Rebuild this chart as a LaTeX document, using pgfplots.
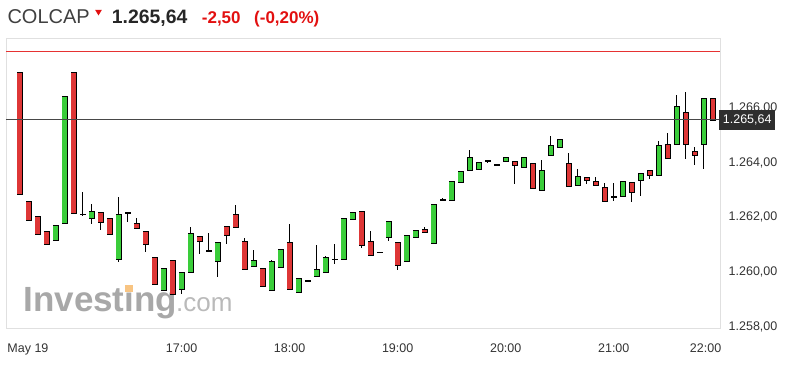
\documentclass[border=0pt]{standalone}
\usepackage{pgfplots}
\pgfplotsset{compat=1.18}
\usepackage{pgfplotstable}
\usepackage{fontspec}
\setmainfont{Liberation Sans}
\definecolor{cgreen}{RGB}{58,205,58}
\definecolor{cred}{RGB}{222,54,54}
\definecolor{txtred}{RGB}{226,16,16}
\definecolor{prevred}{RGB}{230,50,50}
\definecolor{wmorange}{RGB}{248,196,130}

% bullish candles: index, open, high, low, close
\pgfplotstableread{
i o h l c
4 1261.23 1261.79 1261.23 1261.79
5 1261.87 1266.51 1261.87 1266.51
8 1262.01 1262.55 1261.85 1262.29
11 1260.52 1262.83 1260.44 1262.16
16 1259.41 1260.19 1259.41 1260.19
18 1259.41 1260.06 1259.27 1260.06
19 1260.06 1261.71 1260.06 1261.47
22 1260.45 1261.16 1259.90 1261.16
26 1260.27 1260.88 1260.27 1260.51
28 1259.41 1260.54 1259.41 1260.47
29 1260.23 1260.91 1260.23 1260.91
31 1259.32 1259.86 1259.32 1259.86
33 1259.90 1261.06 1259.90 1260.15
34 1260.06 1260.67 1260.06 1260.60
36 1260.55 1262.06 1260.55 1262.06
37 1262.00 1262.26 1262.00 1262.26
41 1261.33 1261.93 1261.22 1261.93
43 1260.45 1261.43 1260.45 1261.43
44 1261.33 1261.61 1261.33 1261.61
46 1261.14 1262.56 1261.14 1262.56
48 1262.70 1263.39 1262.70 1263.39
49 1263.34 1263.76 1263.34 1263.76
50 1263.79 1264.56 1263.79 1264.27
51 1263.84 1264.09 1263.84 1264.09
54 1264.11 1264.25 1264.11 1264.25
56 1263.89 1264.27 1263.89 1264.27
58 1263.06 1264.17 1263.06 1263.79
59 1264.32 1265.05 1264.32 1264.68
60 1264.62 1264.90 1264.62 1264.90
62 1263.24 1263.85 1263.24 1263.57
67 1262.84 1263.39 1262.84 1263.39
69 1263.41 1263.67 1262.86 1263.67
71 1263.62 1264.86 1263.62 1264.72
73 1264.74 1266.55 1264.74 1266.12
76 1264.74 1266.43 1263.83 1266.43
}\candUp

% bearish candles
\pgfplotstableread{
i o h l c
0 1267.38 1267.38 1262.92 1262.92
1 1262.66 1262.66 1261.97 1261.97
2 1262.11 1262.11 1261.46 1261.46
3 1261.57 1261.57 1261.10 1261.10
6 1267.38 1267.38 1262.23 1262.23
9 1262.26 1262.26 1261.63 1261.88
10 1262.02 1262.02 1261.46 1261.46
13 1261.85 1262.04 1261.65 1261.65
14 1261.57 1261.57 1260.82 1261.10
15 1260.61 1260.61 1259.62 1259.62
17 1260.48 1260.48 1259.27 1259.27
20 1261.39 1261.39 1260.73 1261.20
23 1261.76 1261.76 1261.10 1261.42
24 1262.16 1262.53 1261.68 1261.68
25 1261.21 1261.31 1260.18 1260.18
27 1260.19 1260.19 1259.53 1259.53
30 1261.16 1261.85 1259.45 1259.45
38 1262.29 1262.29 1260.94 1261.04
39 1261.20 1261.57 1260.68 1260.68
42 1261.16 1261.16 1260.15 1260.30
45 1261.65 1261.71 1261.51 1261.51
55 1264.10 1264.10 1263.28 1263.98
57 1264.04 1264.04 1263.15 1263.15
61 1264.04 1264.42 1263.19 1263.19
63 1263.52 1263.52 1263.29 1263.42
64 1263.39 1263.54 1263.24 1263.24
65 1263.17 1263.32 1262.64 1262.64
68 1263.34 1263.34 1262.63 1262.97
70 1263.80 1263.80 1263.46 1263.59
72 1264.72 1265.17 1264.21 1264.21
74 1265.92 1266.65 1264.21 1264.74
75 1264.50 1264.66 1263.99 1264.33
77 1266.43 1266.43 1265.64 1265.64
}\candDn

% doji candles (open = close)
\pgfplotstableread{
i o h l c
7 1262.18 1263.00 1262.12 1262.18
12 1262.24 1262.24 1261.91 1262.24
21 1260.85 1261.51 1260.85 1260.85
32 1259.75 1259.75 1259.75 1259.75
35 1260.54 1261.09 1260.37 1260.54
40 1260.80 1260.80 1260.80 1260.80
47 1262.70 1262.77 1262.66 1262.70
52 1264.15 1264.15 1264.05 1264.15
53 1263.99 1263.99 1263.99 1263.99
66 1262.83 1263.32 1262.68 1262.83
}\candDoji

% reference levels: previous close and last price
\pgfplotstableread{
x prev last
-1.5 1268.14 1265.64
77.8 1268.14 1265.64
}\levels

\pgfplotsset{
  wick/.style={draw=none, mark=none, forget plot,
    error bars/.cd, y dir=both, y explicit, error mark=none,
    error bar style={draw=black, line width=0.8pt}},
  bodyout/.style={draw=none, mark=none, forget plot,
    error bars/.cd, y dir=both, y explicit, error mark=none,
    error bar style={draw=black, line width=6.0pt}},
  bodyin/.style={draw=none, mark=none, forget plot,
    error bars/.cd, y dir=both, y explicit, error mark=none,
    error bar style={draw=#1, line width=4.4pt}},
}

\begin{document}
\begin{tikzpicture}[x=1pt,y=1pt]

% header
\node[anchor=base west, inner sep=0pt, text=black!75, font=\fontsize{20}{20}\selectfont] at (7.3,348) {COLCAP};
\fill[txtred] (95.2,362) -- (101.8,362) -- (98.5,356.5) -- cycle;
\node[anchor=base west, inner sep=0pt, text=black!85, font=\fontsize{19.4}{19.4}\selectfont\bfseries] at (111.7,348) {1.265,64};
\node[anchor=base west, inner sep=0pt, text=txtred, font=\fontsize{17}{17}\selectfont\bfseries] at (201.7,348) {-2,50};
\node[anchor=base west, inner sep=0pt, text=txtred, font=\fontsize{17}{17}\selectfont\bfseries] at (254,348) {(-0,20\%)};

% watermark
\node[anchor=base west, inner sep=0pt, text=black!34, font=\fontsize{35}{35}\selectfont\bfseries] at (23.3,60) {Investing};
\fill[wmorange] (124.8,79.5) rectangle (133,86.8);
\node[anchor=base west, inner sep=0pt, text=black!27, font=\fontsize{26}{26}\selectfont] at (176,60) {.com};

\begin{axis}[
  at={(6pt,43.4pt)}, anchor=south west,
  width=714pt, height=290.6pt, scale only axis,
  xmin=-1.5, xmax=77.8, ymin=1258, ymax=1268.63,
  axis line style={draw=black!12, line width=0.8pt},
  xtick={0.94,18,30,42,54,66,76.2},
  xticklabels={May 19,17:00,18:00,19:00,20:00,21:00,22:00},
  ytick={1258,1260,1262,1264,1266},
  yticklabels={{1.258,00},{1.260,00},{1.262,00},{1.264,00},{1.266,00}},
  yticklabel pos=right,
  major tick length=0pt,
  tick style={draw=none},
  ticklabel style={font=\fontsize{12.5}{12.5}\selectfont, text=black!80},
  xticklabel style={anchor=base, yshift=-23.4pt},
  yticklabel style={anchor=base west, inner sep=0pt, xshift=8.5pt, yshift=-1.7pt},
  /pgf/number format/assume math mode=true,
  clip=false,
  scaled y ticks=false,
]
% previous close level
\addplot[draw=prevred, line width=1pt, mark=none, forget plot] table[x=x, y=prev] {\levels};
% wicks
\addplot[wick] table[x=i, y expr={(\thisrow{h}+\thisrow{l})/2}, y error expr={(\thisrow{h}-\thisrow{l})/2}] {\candUp};
\addplot[wick] table[x=i, y expr={(\thisrow{h}+\thisrow{l})/2}, y error expr={(\thisrow{h}-\thisrow{l})/2}] {\candDn};
\addplot[wick] table[x=i, y expr={(\thisrow{h}+\thisrow{l})/2}, y error expr={(\thisrow{h}-\thisrow{l})/2}] {\candDoji};
% body outlines
\addplot[bodyout] table[x=i, y expr={(\thisrow{o}+\thisrow{c})/2}, y error expr={abs(\thisrow{c}-\thisrow{o})/2+0.018}] {\candUp};
\addplot[bodyout] table[x=i, y expr={(\thisrow{o}+\thisrow{c})/2}, y error expr={abs(\thisrow{c}-\thisrow{o})/2+0.018}] {\candDn};
\addplot[bodyout] table[x=i, y expr={(\thisrow{o}+\thisrow{c})/2}, y error expr={abs(\thisrow{c}-\thisrow{o})/2+0.03}] {\candDoji};
% body fills
\addplot[bodyin=cgreen] table[x=i, y expr={(\thisrow{o}+\thisrow{c})/2}, y error expr={max(abs(\thisrow{c}-\thisrow{o})/2-0.018,0)}] {\candUp};
\addplot[bodyin=cred] table[x=i, y expr={(\thisrow{o}+\thisrow{c})/2}, y error expr={max(abs(\thisrow{c}-\thisrow{o})/2-0.018,0)}] {\candDn};
% last price level
\addplot[draw=black!72, line width=0.9pt, mark=none, forget plot] table[x=x, y=last] {\levels};
\node[anchor=west, fill=black!82, text=white, inner sep=0pt, minimum width=56pt, minimum height=20pt,
  font=\fontsize{12.5}{12.5}\selectfont, xshift=-1pt] at (axis cs:77.8,1265.64) {1.265,64};
\end{axis}
\pgfresetboundingbox
\path[use as bounding box] (0,0) rectangle (789,372);
\end{tikzpicture}
\end{document}
